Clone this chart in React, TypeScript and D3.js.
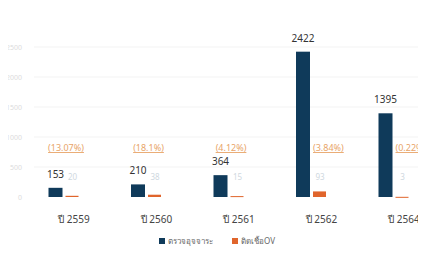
import React from 'react';
import * as d3 from 'd3';

const years = ['ปี 2559', 'ปี 2560', 'ปี 2561', 'ปี 2562', 'ปี 2564'];
const screened = [153, 210, 364, 2422, 1395];
const infected = [20, 38, 15, 93, 3];
const rates = ['(13.07%)', '(18.1%)', '(4.12%)', '(3.84%)', '(0.22%)'];
const yTicks = [0, 500, 1000, 1500, 2000, 2500];
const legendLabels = ['ตรวจอุจจาระ', 'ติดเชื้อOV'];

const W = 426;
const H = 255;
const DARK = '#0f3a5a';
const ORANGE = '#e0652c';

const App = () => {
  const x = d3.scaleBand().domain(years).range([22.75, 435.25]).padding(0);
  const y = d3.scaleLinear().domain([0, 2500]).range([197, 47]);
  const barW = 14;
  const gap = 3;
  const font = '"Noto Sans", "DejaVu Sans", sans-serif';

  return (
    <svg width={W} height={H} viewBox={`0 0 ${W} ${H}`} style={{ display: 'block', margin: '-8px' }} fontFamily={font}>
      <rect width={W} height={H} fill="#fff" />
      <rect width={W} height={4} fill="#eef8fb" />

      {/* faint grid + y labels */}
      {yTicks.map(t => (
        <g key={t}>
          {t > 0 && <line x1={34} x2={W} y1={y(t)} y2={y(t)} stroke="#f3f3f3" />}
          <text x={22} y={y(t) + 3} fontSize={7} fill="#dcdcdc" textAnchor="end">{t}</text>
        </g>
      ))}

      {years.map((yr, i) => {
        const c = (x(yr) ?? 0) + x.bandwidth() / 2;
        const dx = c - gap / 2 - barW;
        const ox = c + gap / 2;
        const tall = y(screened[i]) < 158;
        return (
          <g key={yr}>
            <rect x={dx} y={y(screened[i])} width={barW} height={y(0) - y(screened[i])} fill={DARK} />
            <rect x={ox} y={y(infected[i])} width={barW - 1} height={Math.max(1, y(0) - y(infected[i]))} fill={ORANGE} />
            <text x={dx + barW / 2} y={y(screened[i]) - 10} fontSize={10} fill="#333" textAnchor="middle">{screened[i]}</text>
            <text x={ox + barW / 2} y={y(0) - 17} fontSize={8} fill="#cfd8e0" textAnchor="middle">{infected[i]}</text>
            <text
              x={tall ? ox : c + 2}
              y={151}
              fontSize={9}
              fill="#e8a468"
              textAnchor={tall ? 'start' : 'middle'}
              textDecoration="underline"
            >
              {rates[i]}
            </text>
            <text x={c + 10} y={223} fontSize={10} fill="#444" textAnchor="middle">{yr}</text>
          </g>
        );
      })}

      {/* legend */}
      <rect x={159} y={238} width={6} height={6} fill={DARK} />
      <text x={168} y={244} fontSize={8} fill="#666">{legendLabels[0]}</text>
      <rect x={232} y={238} width={6} height={6} fill={ORANGE} />
      <text x={241} y={244} fontSize={8} fill="#666">{legendLabels[1]}</text>
    </svg>
  );
};

export default App;
